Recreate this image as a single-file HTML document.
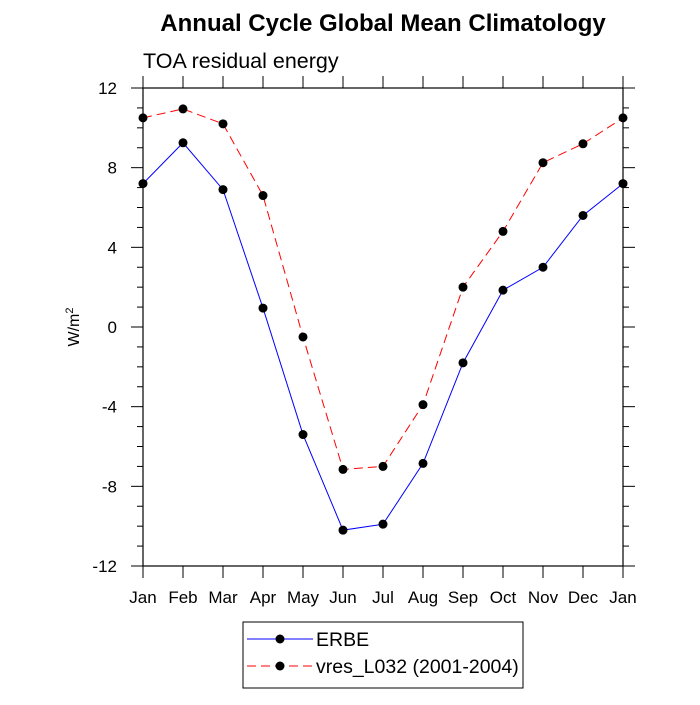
<!DOCTYPE html>
<html><head><meta charset="utf-8"><style>
body{margin:0;background:#fff}
svg{font-family:"Liberation Sans",sans-serif}
</style></head><body>
<svg id="chart" width="700" height="700" viewBox="0 0 700 700">
<rect width="700" height="700" fill="#fff"/>
<text x="383" y="31" text-anchor="middle" font-size="24" font-weight="bold">Annual Cycle Global Mean Climatology</text>
<text x="143" y="68" font-size="21.5">TOA residual energy</text>
<text transform="translate(79,327) rotate(-90)" text-anchor="middle" font-size="16">W/m<tspan dy="-6" font-size="11">2</tspan></text>
<g id="axes"></g>
<g id="series"></g>
<g>
<rect x="243" y="622" width="280" height="66" fill="none" stroke="#000" stroke-width="1"/>
<line x1="247" y1="639" x2="313" y2="639" stroke="#0000ff" stroke-width="1"/>
<circle cx="280" cy="639" r="4.5" fill="#000"/>
<text x="316" y="646" font-size="19.5">ERBE</text>
<line x1="247" y1="666" x2="313" y2="666" stroke="#ff0000" stroke-width="1" stroke-dasharray="9,5"/>
<circle cx="280" cy="666" r="4.5" fill="#000"/>
<text x="316" y="673" font-size="19.5">vres_L032 (2001-2004)</text>
</g>
</svg>
<script>
const months = ["Jan","Feb","Mar","Apr","May","Jun","Jul","Aug","Sep","Oct","Nov","Dec","Jan"];
const erbe = [7.2,9.25,6.9,0.95,-5.4,-10.2,-9.9,-6.85,-1.8,1.85,3.0,5.6,7.2];
const vres = [10.5,10.95,10.2,6.6,-0.5,-7.15,-7.0,-3.9,2.0,4.8,8.25,9.2,10.5];
const yTicks = [-12,-8,-4,0,4,8,12];
const NS="http://www.w3.org/2000/svg";
const L=143,R=623,T=88,B=566,ymin=-12,ymax=12;
const xs=i=>L+(R-L)*i/(months.length-1);
const ys=v=>B-(v-ymin)/(ymax-ymin)*(B-T);
function mk(tag,attrs,parent){const e=document.createElementNS(NS,tag);for(const k in attrs)e.setAttribute(k,attrs[k]);parent.appendChild(e);return e;}
const ax=document.getElementById('axes');
const frame=mk('rect',{x:L,y:T,width:R-L,height:B-T,fill:'none',stroke:'#000','stroke-width':1.2},ax);


months.forEach((m,i)=>{
  const x=xs(i);
  mk('line',{x1:x,y1:B,x2:x,y2:B+12,stroke:'#000'},ax);
  mk('line',{x1:x,y1:T,x2:x,y2:T-12,stroke:'#000'},ax);
  const t=mk('text',{x:x,y:B+37,'text-anchor':'middle','font-size':17},ax);
  t.textContent=m;
  
  
});
for(let v=ymin;v<=ymax;v++){
  const y=ys(v),major=yTicks.includes(v),len=major?12:6;
  mk('line',{x1:L,y1:y,x2:L-len,y2:y,stroke:'#000'},ax);
  mk('line',{x1:R,y1:y,x2:R+len,y2:y,stroke:'#000'},ax);
}
yTicks.forEach(v=>{
  const t=mk('text',{x:L-26,y:ys(v)+6,'text-anchor':'end','font-size':17},ax);
  t.textContent=v;
  
  
});
const sg=document.getElementById('series');
function draw(data,color,dash,name){
  const p=mk('polyline',{points:data.map((v,i)=>xs(i)+','+ys(v)).join(' '),fill:'none',stroke:color,'stroke-width':1,'stroke-dasharray':dash},sg);
  
  
  data.forEach((v,i)=>{
    const c=mk('circle',{cx:xs(i),cy:ys(v),r:4.5,fill:'#000'},sg);
    
    
  });
}
draw(erbe,'#0000ff','none','erbe');
draw(vres,'#ff0000','9,5','vres');
</script>
</body></html>
